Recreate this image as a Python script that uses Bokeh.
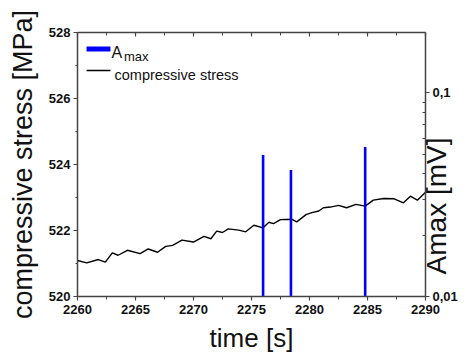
import math
from bokeh.plotting import figure
from bokeh.models import (Range1d, LinearAxis, LogAxis, LogScale, FixedTicker,
                          SingleIntervalTicker, CustomJSTickFormatter, Label, ColumnDataSource)
from bokeh.embed import file_html
from bokeh.resources import INLINE

# ---- data ----
time_s = [2260.0, 2260.8, 2261.8, 2262.4, 2263.0, 2263.5, 2264.3, 2265.4, 2266.1, 2266.9,
          2267.6, 2268.2, 2269.0, 2270.0, 2270.9, 2271.5, 2272.0, 2272.5, 2273.0, 2273.9,
          2274.5, 2275.2, 2276.0, 2276.5, 2276.9, 2277.5, 2278.5, 2278.9, 2279.7, 2280.2,
          2280.8, 2281.2, 2281.8, 2282.5, 2283.2, 2284.0, 2284.8, 2285.5, 2286.4, 2287.3,
          2288.1, 2288.7, 2289.3, 2290.0]
stress_mpa = [521.09, 521.02, 521.12, 521.04, 521.32, 521.25, 521.40, 521.30, 521.44, 521.34,
              521.52, 521.55, 521.71, 521.65, 521.82, 521.75, 521.98, 521.94, 522.05, 522.01,
              521.96, 522.16, 522.08, 522.25, 522.21, 522.33, 522.34, 522.26, 522.48, 522.54,
              522.59, 522.69, 522.71, 522.76, 522.69, 522.79, 522.74, 522.92, 522.97, 522.96,
              522.84, 523.04, 522.92, 523.16]
amax_time = [2276.0, 2278.4, 2284.8]
amax_mv = [0.0495, 0.0418, 0.0542]
amax_base = 0.01

x_ticks_interval = 5
y_ticks_interval = 2
right_major_ticks = [0.01, 0.1]
right_minor_ticks = [0.02, 0.03, 0.04, 0.05, 0.06, 0.07, 0.08, 0.09, 0.2]
right_title = "Amax [mV]"

FONT = "Liberation Sans"
AXIS_COLOR = "#444444"

p = figure(width=474, height=358, x_range=Range1d(2260, 2290), y_range=Range1d(520, 528),
           output_backend="svg", toolbar_location=None, title=None,
           min_border_left=77, min_border_right=49, min_border_top=32, min_border_bottom=62)
p.extra_y_ranges = {"amp": Range1d(0.01, 0.198)}
p.extra_y_scales = {"amp": LogScale()}
p.outline_line_color = None
p.xgrid.visible = False
p.ygrid.visible = False
p.background_fill_color = "white"
p.border_fill_color = "white"

def style_axis(ax):
    ax.axis_line_color = AXIS_COLOR
    ax.axis_line_width = 1.5
    ax.major_tick_line_color = AXIS_COLOR
    ax.minor_tick_line_color = AXIS_COLOR
    ax.major_tick_line_width = 1.2
    ax.minor_tick_line_width = 1.0
    ax.major_label_text_font = FONT
    ax.major_label_text_font_style = "bold"
    ax.major_label_text_font_size = "13px"
    ax.major_label_text_color = "#111111"
    ax.axis_label_text_font = FONT
    ax.axis_label_text_font_style = "normal"
    ax.axis_label_text_color = "#111111"

# bottom axis
xa = p.xaxis[0]
xa.ticker = SingleIntervalTicker(interval=x_ticks_interval, num_minor_ticks=2)
style_axis(xa)
xa.major_tick_out = 4
xa.major_tick_in = 0
xa.minor_tick_out = 3
xa.minor_tick_in = 0
xa.major_label_standoff = 4
xa.axis_label = "time [s]"
xa.axis_label_text_font_size = "26px"
xa.axis_label_standoff = 6

# left axis
ya = p.yaxis[0]
ya.ticker = SingleIntervalTicker(interval=y_ticks_interval, num_minor_ticks=2)
style_axis(ya)
ya.major_tick_out = 4
ya.major_tick_in = 0
ya.minor_tick_out = 2
ya.minor_tick_in = 0
ya.major_label_standoff = 3
ya.axis_label = "compressive stress [MPa]"
ya.axis_label_text_font_size = "27px"
ya.axis_label_standoff = 8

# top axis (ticks only)
top = LinearAxis(ticker=SingleIntervalTicker(interval=x_ticks_interval, num_minor_ticks=2))
style_axis(top)
top.major_label_text_alpha = 0
top.major_label_standoff = 0
top.major_tick_in = 4
top.major_tick_out = 0
top.minor_tick_in = 3
top.minor_tick_out = 0
top.major_label_text_font_size = "1px"
top.formatter = CustomJSTickFormatter(code="return ' ';")
p.add_layout(top, "above")

# right log axis
ra = LogAxis(y_range_name="amp",
             ticker=FixedTicker(ticks=right_major_ticks, minor_ticks=right_minor_ticks),
             formatter=CustomJSTickFormatter(code="return String(tick).replace('.', ',');"))
style_axis(ra)
ra.major_tick_out = 4
ra.major_tick_in = 0
ra.minor_tick_in = 3
ra.minor_tick_out = 0
ra.major_label_standoff = 3
p.add_layout(ra, "right")

# right-hand title, drawn as a single rotated tick label (reads bottom to top,
# starting where the title begins in the reference)
title_axis = LinearAxis(ticker=FixedTicker(ticks=[520.67], minor_ticks=[]),
                        formatter=CustomJSTickFormatter(code="return %r;" % right_title))
title_axis.axis_line_color = None
title_axis.major_tick_line_color = None
title_axis.minor_tick_line_color = None
title_axis.major_tick_in = 0
title_axis.major_tick_out = 0
title_axis.minor_tick_in = 0
title_axis.minor_tick_out = 0
title_axis.major_label_orientation = math.pi / 2
title_axis.major_label_standoff = -24
title_axis.major_label_text_font = FONT
title_axis.major_label_text_font_style = "normal"
title_axis.major_label_text_font_size = "28px"
title_axis.major_label_text_color = "#111111"
p.add_layout(title_axis, "right")

# data
src_line = ColumnDataSource(dict(t=time_s, s=stress_mpa))
p.line("t", "s", source=src_line, line_color="black", line_width=1.4)

src_bar = ColumnDataSource(dict(t=amax_time, a=amax_mv, b=[amax_base] * len(amax_mv)))
p.segment(x0="t", y0="b", x1="t", y1="a", source=src_bar, line_color="#0000ff",
          line_width=2.6, y_range_name="amp")

# legend (manual, to allow subscript)
p.quad(left=[2260.78], right=[2262.84], top=[527.576], bottom=[527.424],
       fill_color="#0000ff", line_color=None)
p.add_layout(Label(x=2262.93, y=527.394, text="A", text_baseline="alphabetic",
                   text_font=FONT, text_font_size="16px", text_color="#111111"))
p.add_layout(Label(x=2264.0, y=527.258, text="max", text_baseline="alphabetic",
                   text_font=FONT, text_font_size="13px", text_color="#111111"))
p.line(x=[2260.78, 2262.84], y=[526.85, 526.85], line_color="black", line_width=1.4)
p.add_layout(Label(x=2263.19, y=526.71, text="compressive stress", text_baseline="alphabetic",
                   text_font=FONT, text_font_size="14.5px", text_color="#111111"))

open("out.html", "w").write(file_html(p, INLINE))
